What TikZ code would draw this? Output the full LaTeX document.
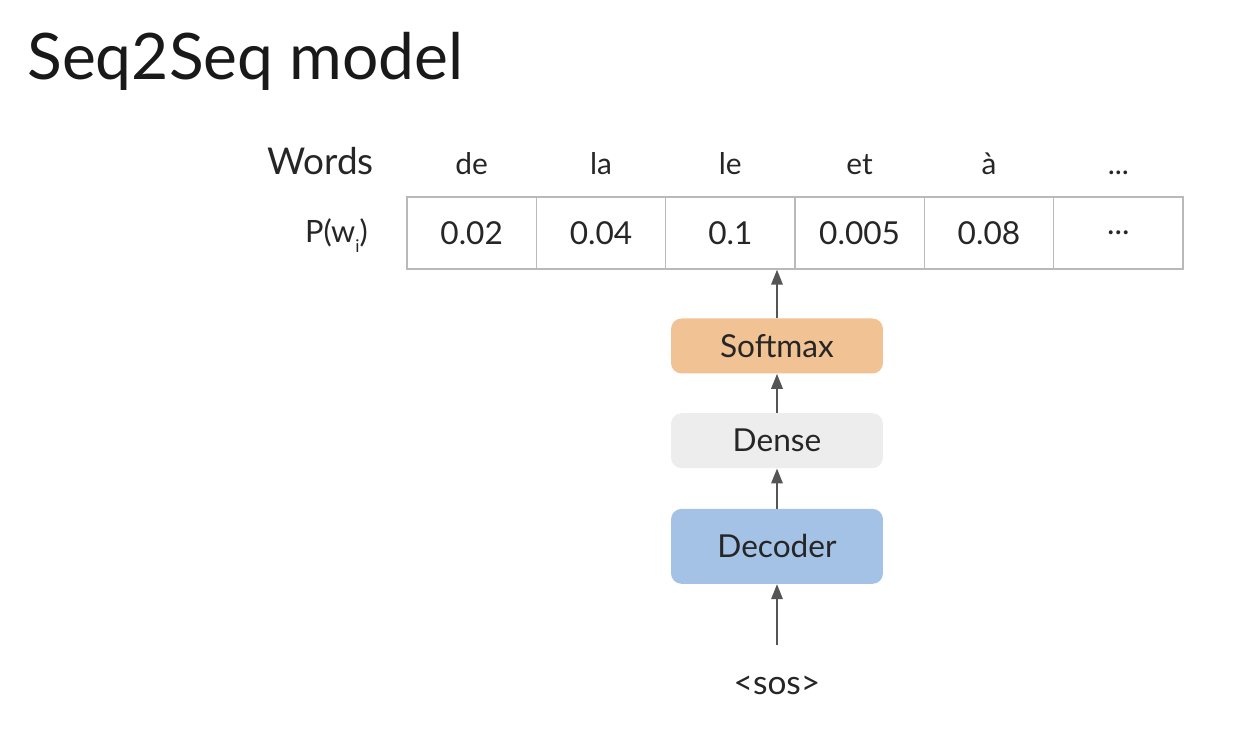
\documentclass[tikz,border=0pt]{standalone}
\usepackage{fontspec}
\setmainfont{Lato}
\usetikzlibrary{arrows.meta,positioning,calc}
\definecolor{smcol}{RGB}{241,194,148}
\definecolor{dncol}{RGB}{237,237,237}
\definecolor{dccol}{RGB}{164,194,229}
\definecolor{gridcol}{RGB}{185,185,185}
\definecolor{arrcol}{RGB}{85,85,85}
\newcommand{\celldots}{...}
\tikzset{
  layer/.style  ={rectangle, rounded corners=6pt, align=center, text=black!85,
                  minimum width=4.24cm, minimum height=1.1cm,
                  font=\fontsize{18}{22}\selectfont},
  softmaxbox/.style={layer, fill=smcol},
  densebox/.style  ={layer, fill=dncol},
  decoderbox/.style={layer, fill=dccol, minimum height=1.5cm},
  cell/.style   ={rectangle, draw=gridcol, line width=0.8pt, text=black!85,
                  minimum width=2.5867cm, minimum height=1.44cm,
                  font=\fontsize{18}{22}\selectfont},
  word/.style   ={anchor=base, text=black!85, font=\fontsize{17}{20}\selectfont},
  flow/.style   ={-{Triangle[length=8.5pt, width=6.5pt]}, line width=1.1pt, draw=arrcol},
}
\begin{document}
\begin{tikzpicture}[x=0.02cm, y=-0.02cm]
    \useasboundingbox (0,0) rectangle (1238,742);

    % title
    \node[anchor=base west, inner sep=0pt, font=\fontsize{36.5}{42}\selectfont,
          text=black!90] (title) at (27,80) {Seq2Seq model};

    % probability table with its words
    \foreach \w/\p [count=\i from 0] in {de/0.02, la/0.04, le/0.1, et/0.005, à/0.08, \celldots/\celldots} {
      \node[cell] (c\i) at ({407+129.33*(\i+0.5)},233) {\p};
      \node[word] (w\i) at (c\i |- 0,175) {\w};
    }
    \node[word, anchor=base east, font=\fontsize{21}{25}\selectfont] (wlbl) at (380,175) {Words};
    \node[word, anchor=base east, font=\fontsize{17.5}{21}\selectfont] (plbl) at (374,243)
        {P(w\raisebox{-0.6ex}{\fontsize{10}{12}\selectfont i})};

    % layers
    \node[softmaxbox] (softmax) at (777,346) {Softmax};
    \node[densebox, below=0.78cm of softmax] (dense) {Dense};
    \node[decoderbox, below=0.8cm of dense] (decoder) {Decoder};
    \node[word, anchor=base, font=\fontsize{19}{22}\selectfont] (sos) at (777,695) {<sos>};

    % arrows
    \draw[flow, shorten <=0.5cm] (sos.north) -- (decoder.south);
    \draw[flow] (decoder) -- (dense);
    \draw[flow] (dense) -- (softmax);
    \draw[flow] (softmax) -- (softmax.north |- c2.south);
\end{tikzpicture}
\end{document}
